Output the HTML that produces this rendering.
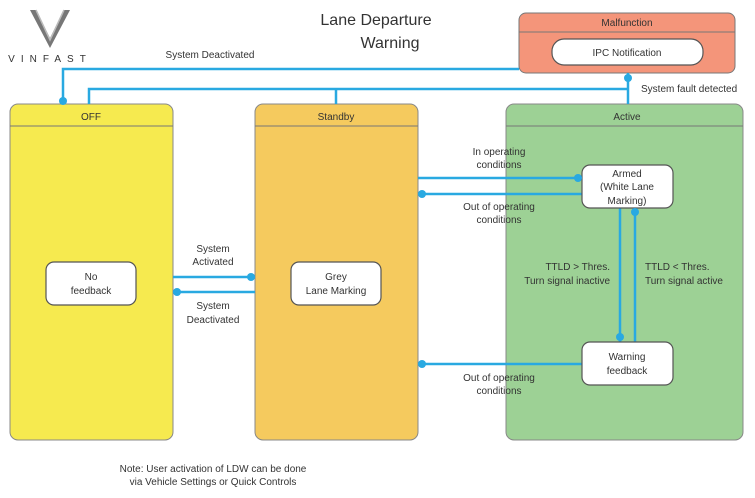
<!DOCTYPE html>
<html><head><meta charset="utf-8"><style>
html,body{margin:0;padding:0;background:#fff;}
svg{display:block;}
text{font-family:"Liberation Sans",sans-serif;fill:#333;}
</style></head><body>
<svg width="755" height="498" viewBox="0 0 755 498" xmlns="http://www.w3.org/2000/svg">
<!-- logo -->
<path d="M30 10 L50 48 L70 10 L64 10 L50 38 L36 10 Z" fill="#777"/>
<path d="M36 10 L50 40 L64 10" fill="none" stroke="#bbb" stroke-width="1.5"/>
<text x="50" y="62" font-size="10" text-anchor="middle" letter-spacing="6" fill="#888">VINFAST</text>
<!-- title -->
<text x="376" y="25" font-size="16" text-anchor="middle">Lane Departure</text>
<text x="390" y="48" font-size="16" text-anchor="middle">Warning</text>

<!-- Malfunction -->
<rect x="519" y="13" width="216" height="60" rx="7" fill="#f4957a" stroke="#777" stroke-width="1"/>
<line x1="519" y1="32" x2="735" y2="32" stroke="#777"/>
<text x="627" y="26" font-size="10" text-anchor="middle">Malfunction</text>

<!-- OFF -->
<rect x="10" y="104" width="163" height="336" rx="8" fill="#f6ea4f" stroke="#888" stroke-width="1"/>
<line x1="10" y1="126" x2="173" y2="126" stroke="#777"/>
<text x="91" y="120" font-size="10" text-anchor="middle">OFF</text>

<!-- Standby -->
<rect x="255" y="104" width="163" height="336" rx="8" fill="#f5ca5e" stroke="#888" stroke-width="1"/>
<line x1="255" y1="126" x2="418" y2="126" stroke="#777"/>
<text x="336" y="120" font-size="10" text-anchor="middle">Standby</text>

<!-- Active -->
<rect x="506" y="104" width="237" height="336" rx="8" fill="#9dd195" stroke="#888" stroke-width="1"/>
<line x1="506" y1="126" x2="743" y2="126" stroke="#777"/>
<text x="627" y="120" font-size="10" text-anchor="middle">Active</text>

<!-- connectors -->
<g stroke="#29a9e1" stroke-width="2.5" fill="none">
<polyline points="63,101 63,69 519,69"/>
<polyline points="89,104 89,89 628,89"/>
<line x1="336" y1="89" x2="336" y2="104"/>
<line x1="628" y1="73" x2="628" y2="104"/>
<line x1="418" y1="178" x2="582" y2="178"/>
<line x1="418" y1="194" x2="582" y2="194"/>
<line x1="620" y1="208" x2="620" y2="342"/>
<line x1="635" y1="208" x2="635" y2="342"/>
<line x1="418" y1="364" x2="582" y2="364"/>
<line x1="173" y1="277" x2="255" y2="277"/>
<line x1="173" y1="292" x2="255" y2="292"/>
</g>

<!-- inner states -->
<rect x="552" y="39" width="151" height="26" rx="12" fill="#fff" stroke="#555" stroke-width="1.2"/>
<text x="627" y="56" font-size="10" text-anchor="middle">IPC Notification</text>
<rect x="46" y="262" width="90" height="43" rx="8" fill="#fff" stroke="#555" stroke-width="1.2"/>
<text x="91" y="280" font-size="10" text-anchor="middle">No</text>
<text x="91" y="294" font-size="10" text-anchor="middle">feedback</text>
<rect x="291" y="262" width="90" height="43" rx="8" fill="#fff" stroke="#555" stroke-width="1.2"/>
<text x="336" y="280" font-size="10" text-anchor="middle">Grey</text>
<text x="336" y="294" font-size="10" text-anchor="middle">Lane Marking</text>
<rect x="582" y="165" width="91" height="43" rx="8" fill="#fff" stroke="#555" stroke-width="1.2"/>
<text x="627" y="177" font-size="10" text-anchor="middle">Armed</text>
<text x="627" y="190" font-size="10" text-anchor="middle">(White Lane</text>
<text x="627" y="204" font-size="10" text-anchor="middle">Marking)</text>
<rect x="582" y="342" width="91" height="43" rx="8" fill="#fff" stroke="#555" stroke-width="1.2"/>
<text x="627" y="360" font-size="10" text-anchor="middle">Warning</text>
<text x="627" y="374" font-size="10" text-anchor="middle">feedback</text>

<!-- dots -->
<g fill="#29a9e1">
<circle cx="63" cy="101" r="4"/>
<circle cx="628" cy="78" r="4"/>
<circle cx="578" cy="178" r="4"/>
<circle cx="422" cy="194" r="4"/>
<circle cx="635" cy="212" r="4"/>
<circle cx="620" cy="337" r="4"/>
<circle cx="422" cy="364" r="4"/>
<circle cx="251" cy="277" r="4"/>
<circle cx="177" cy="292" r="4"/>
</g>

<!-- labels -->
<g font-size="10">
<text x="210" y="58" text-anchor="middle">System Deactivated</text>
<text x="641" y="92">System fault detected</text>
<text x="499" y="155" text-anchor="middle">In operating</text>
<text x="499" y="168" text-anchor="middle">conditions</text>
<text x="499" y="210" text-anchor="middle">Out of operating</text>
<text x="499" y="223" text-anchor="middle">conditions</text>
<text x="610" y="270" text-anchor="end">TTLD &gt; Thres.</text>
<text x="610" y="284" text-anchor="end">Turn signal inactive</text>
<text x="645" y="270">TTLD &lt; Thres.</text>
<text x="645" y="284">Turn signal active</text>
<text x="499" y="381" text-anchor="middle">Out of operating</text>
<text x="499" y="394" text-anchor="middle">conditions</text>
<text x="213" y="252" text-anchor="middle">System</text>
<text x="213" y="265" text-anchor="middle">Activated</text>
<text x="213" y="309" text-anchor="middle">System</text>
<text x="213" y="323" text-anchor="middle">Deactivated</text>
<text x="213" y="472" text-anchor="middle">Note: User activation of LDW can be done</text>
<text x="213" y="485" text-anchor="middle">via Vehicle Settings or Quick Controls</text>
</g>
</svg>
</body></html>
